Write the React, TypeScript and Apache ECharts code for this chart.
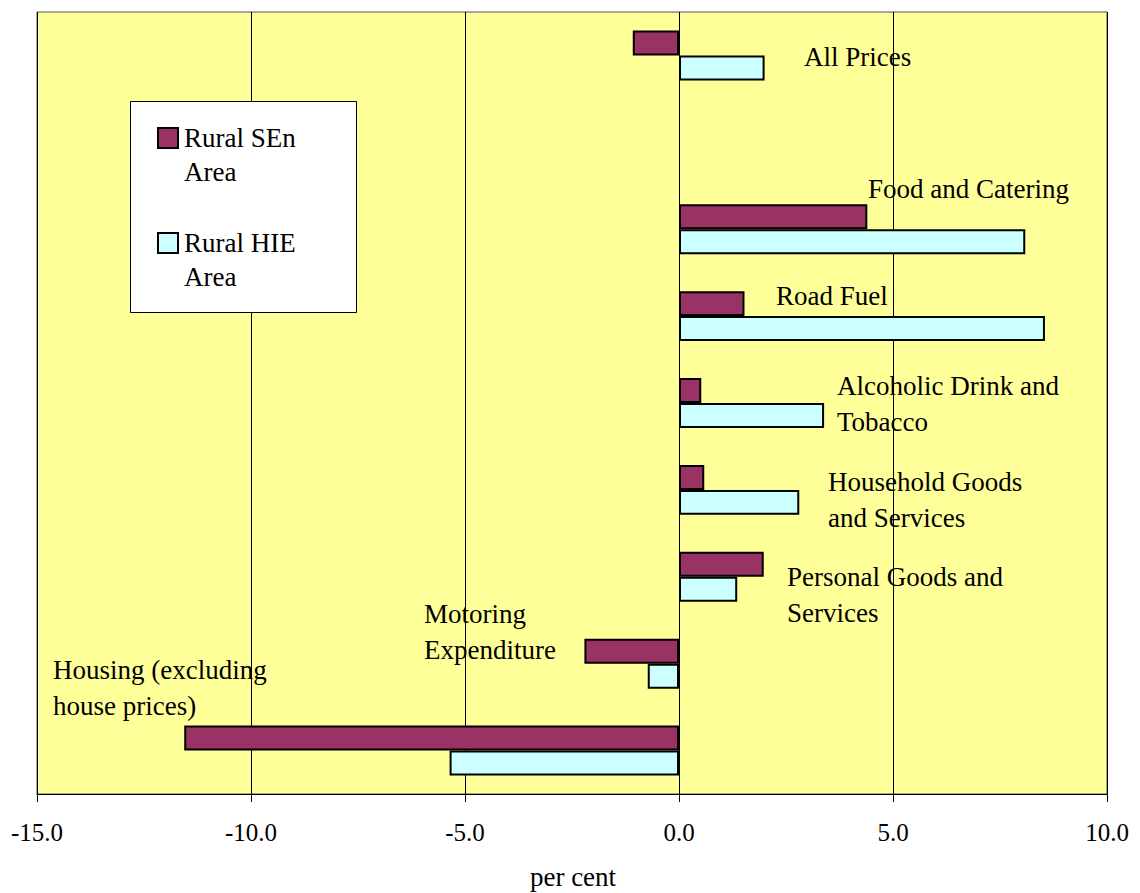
import React, { useEffect, useRef } from "react";
import * as echarts from "echarts";

const categories = [
  "All Prices",
  "",
  "Food and Catering",
  "Road Fuel",
  "Alcoholic Drink and Tobacco",
  "Household Goods and Services",
  "Personal Goods and Services",
  "Motoring Expenditure",
  "Housing (excluding house prices)",
];
const seriesNames = ["Rural SEn Area", "Rural HIE Area"];
const senValues = [-1.08, null, 4.4, 1.53, 0.52, 0.59, 1.98, -2.21, -11.56];
const hieValues = [2.0, null, 8.09, 8.55, 3.39, 2.81, 1.36, -0.73, -5.36];
const xTicks = [-15, -10, -5, 0, 5, 10];
const xAxisTitle = "per cent";

// label text lines per category (as drawn in the reference)
const labelLines = [
  ["All Prices"],
  [],
  ["Food and Catering"],
  ["Road Fuel"],
  ["Alcoholic Drink and", "Tobacco"],
  ["Household Goods", "and Services"],
  ["Personal Goods and", "Services"],
  ["Motoring", "Expenditure"],
  ["Housing (excluding", "house prices)"],
];
// layout: left x and first-line center y of each label
const labelPos: [number, number][] = [
  [804, 57],
  [0, 0],
  [868, 189],
  [776, 296],
  [837, 386],
  [828, 482],
  [787, 577],
  [424, 614],
  [53, 670],
];

const FONT = '"Liberation Serif", "Times New Roman", serif';
const FS = 27;
const LH = 36;

export default function App() {
  const ref = useRef<HTMLDivElement>(null);
  useEffect(() => {
    document.body.style.margin = "0";
    const chart = echarts.init(ref.current!, null, { renderer: "svg" });
    const graphics: any[] = [];
    labelLines.forEach((lines, i) => {
      if (!lines.length) return;
      const [x, y] = labelPos[i];
      graphics.push({
        type: "text",
        x,
        y: y - LH / 2,
        z: 100,
        style: {
          text: lines.join("\n"),
          fill: "#000",
          fontFamily: FONT,
          fontSize: FS,
          lineHeight: LH,
          textAlign: "left",
          textVerticalAlign: "top",
        },
      });
    });
    // axis title
    graphics.push({
      type: "text",
      x: 573,
      y: 877,
      z: 100,
      style: {
        text: xAxisTitle,
        fill: "#000",
        fontFamily: FONT,
        fontSize: FS,
        textAlign: "center",
        textVerticalAlign: "middle",
      },
    });
    // legend box
    graphics.push({
      type: "rect",
      shape: { x: 130.5, y: 101.5, width: 226, height: 211 },
      style: { fill: "#fff", stroke: "#000", lineWidth: 1 },
      z: 100,
    });
    const legColors = ["#993366", "#CCFFFF"];
    const legY = [138, 243];
    seriesNames.forEach((name, i) => {
      graphics.push({
        type: "rect",
        shape: { x: 158, y: legY[i] - 10, width: 20, height: 20 },
        style: { fill: legColors[i], stroke: "#000", lineWidth: 2 },
        z: 101,
      });
      const parts = name.split(" ");
      graphics.push({
        type: "text",
        x: 184,
        y: legY[i] - 17,
        z: 101,
        style: {
          text: parts.slice(0, 2).join(" ") + "\n" + parts.slice(2).join(" "),
          fill: "#000",
          fontFamily: FONT,
          fontSize: FS,
          lineHeight: 34,
          textAlign: "left",
          textVerticalAlign: "top",
        },
      });
    });

    chart.setOption({
      animation: false,
      backgroundColor: "#fff",
      grid: {
        left: 37,
        right: 33,
        top: 12,
        bottom: 99,
        containLabel: false,
        outerBoundsMode: "none",
        show: true,
        backgroundColor: "#FFFF99",
        borderColor: "#555",
        borderWidth: 1,
      },
      xAxis: {
        type: "value",
        min: xTicks[0],
        max: xTicks[xTicks.length - 1],
        interval: 5,
        axisLine: { show: true, onZero: false, lineStyle: { color: "#000", width: 1 } },
        axisTick: { show: true, length: 8, inside: false, lineStyle: { color: "#000" } },
        axisLabel: {
          formatter: (v: number) => v.toFixed(1),
          fontFamily: FONT,
          fontSize: 25,
          color: "#000",
          margin: 26,
        },
        splitLine: { show: true, lineStyle: { color: "#000", width: 1 } },
      },
      yAxis: {
        type: "category",
        data: categories,
        inverse: true,
        axisLine: { show: false },
        axisTick: { show: false },
        axisLabel: { show: false },
        splitLine: { show: false },
      },
      series: [
        {
          name: seriesNames[0],
          type: "bar",
          data: senValues,
          barGap: "0%",
          barCategoryGap: "42.5%",
          itemStyle: { color: "#993366", borderColor: "#000", borderWidth: 2 },
        },
        {
          name: seriesNames[1],
          type: "bar",
          data: hieValues,
          barGap: "0%",
          barCategoryGap: "42.5%",
          itemStyle: { color: "#CCFFFF", borderColor: "#000", borderWidth: 2 },
        },
      ],
      graphic: graphics,
    });
    return () => chart.dispose();
  }, []);
  return (
    <div
      ref={ref}
      style={{ position: "absolute", left: 0, top: 0, width: 1140, height: 893 }}
    />
  );
}
